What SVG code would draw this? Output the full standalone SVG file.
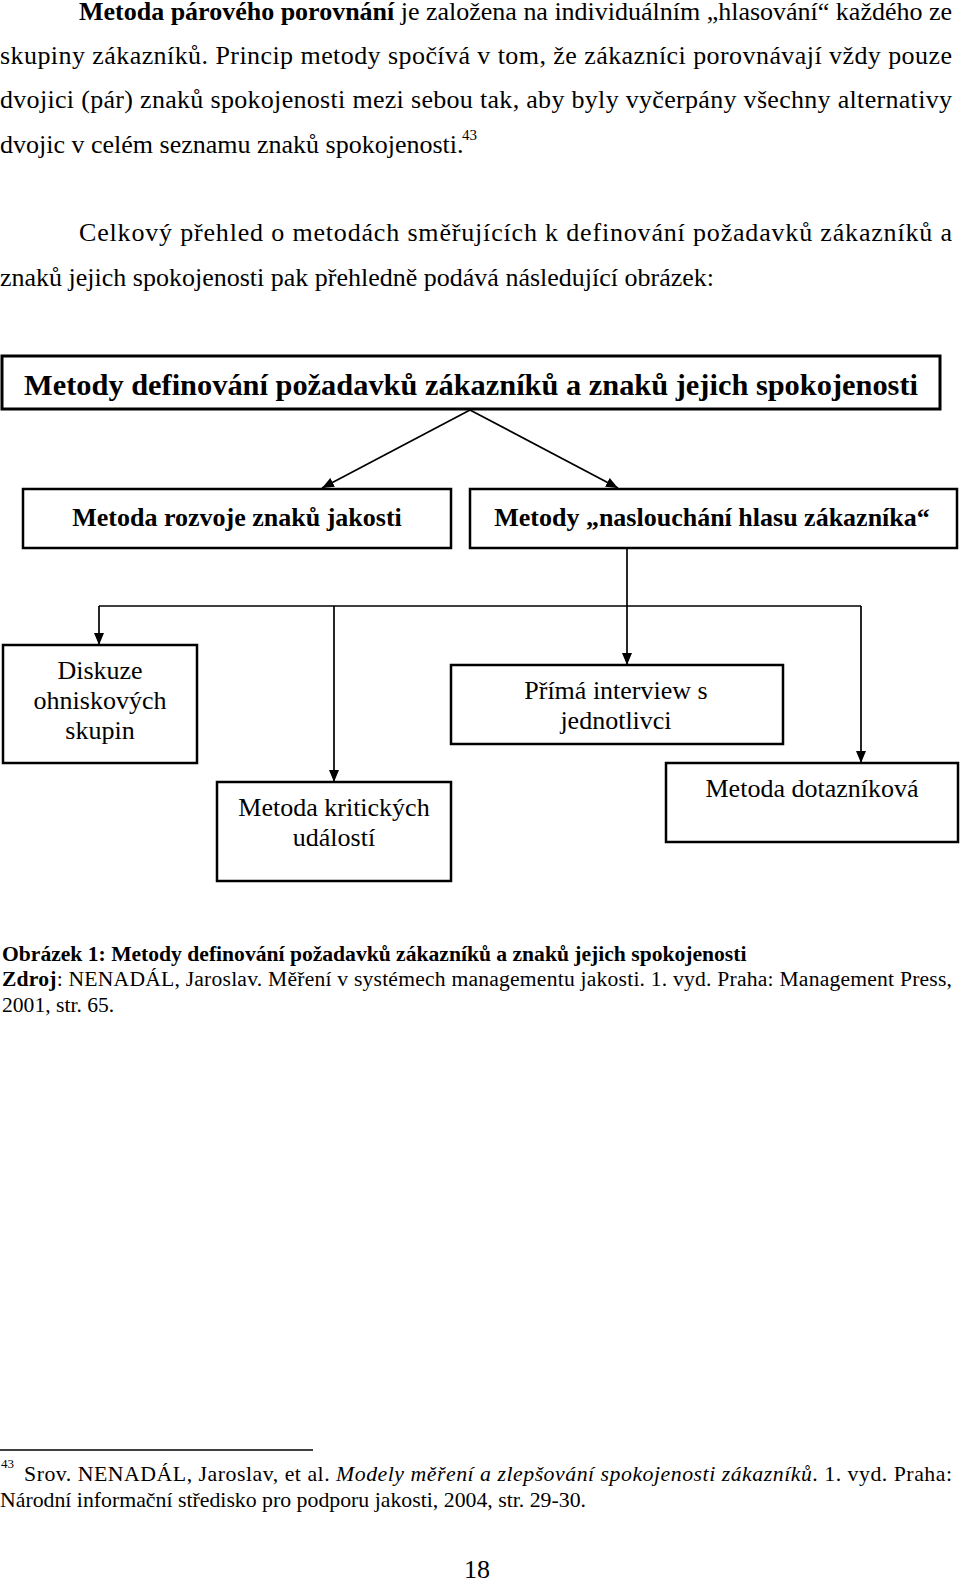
<svg xmlns="http://www.w3.org/2000/svg" width="960" height="1584" viewBox="0 0 960 1584">
<style>
text{font-family:"Liberation Serif","Times New Roman",serif;fill:#000}
.body{font-size:26px}
.b{font-weight:bold}
.box{fill:#fff;stroke:#000;stroke-width:2.5}
.lbl{font-size:26px;text-anchor:middle}
.cap{font-size:21.6px}
.fn{font-size:21.8px}
.con{fill:none;stroke:#000;stroke-width:1.7}
</style>
<defs>
<marker id="ah" markerUnits="userSpaceOnUse" markerWidth="12" markerHeight="10" refX="12" refY="5" orient="auto">
<path d="M0,0 L12,5 L0,10 z" fill="#000"/>
</marker>
</defs>
<rect width="960" height="1584" fill="#fff"/>
<g id="text-top">
<text class="body" x="79" y="20" textLength="873" lengthAdjust="spacing"><tspan class="b">Metoda párového porovnání</tspan> je založena na individuálním „hlasování“ každého ze</text>
<text class="body" x="0" y="64" textLength="952" lengthAdjust="spacing">skupiny zákazníků. Princip metody spočívá v tom, že zákazníci porovnávají vždy pouze</text>
<text class="body" x="0" y="108" textLength="952" lengthAdjust="spacing">dvojici (pár) znaků spokojenosti mezi sebou tak, aby byly vyčerpány všechny alternativy</text>
<text class="body" x="0" y="153">dvojic v celém seznamu znaků spokojenosti.</text>
<text x="462" y="140" style="font-size:15px">43</text>
<text class="body" x="79" y="241" textLength="873" lengthAdjust="spacing">Celkový přehled o metodách směřujících k definování požadavků zákazníků a</text>
<text class="body" x="0" y="286">znaků jejich spokojenosti pak přehledně podává následující obrázek:</text>
</g>
<g id="connectors">
<line class="con" x1="470" y1="410" x2="322" y2="488" marker-end="url(#ah)"/>
<line class="con" x1="470" y1="410" x2="618" y2="488" marker-end="url(#ah)"/>
<line class="con" x1="627" y1="549" x2="627" y2="665" marker-end="url(#ah)"/>
<line class="con" x1="99" y1="606" x2="861" y2="606"/>
<line class="con" x1="99" y1="606" x2="99" y2="645" marker-end="url(#ah)"/>
<line class="con" x1="334" y1="606" x2="334" y2="782" marker-end="url(#ah)"/>
<line class="con" x1="861" y1="606" x2="861" y2="763" marker-end="url(#ah)"/>
</g>
<g id="n-root">
<rect class="box" x="2" y="356" width="938" height="53" style="stroke-width:3"/>
<text class="lbl b" x="471" y="395" style="font-size:30px" textLength="894" lengthAdjust="spacingAndGlyphs">Metody definování požadavků zákazníků a znaků jejich spokojenosti</text>
</g>
<g id="n-rozvoj">
<rect class="box" x="23" y="489" width="428" height="59"/>
<text class="lbl b" x="237" y="526">Metoda rozvoje znaků jakosti</text>
</g>
<g id="n-naslouchani">
<rect class="box" x="470" y="489" width="487" height="59"/>
<text class="lbl b" x="712" y="526">Metody „naslouchání hlasu zákazníka“</text>
</g>
<g id="n-diskuze">
<rect class="box" x="3" y="645" width="194" height="118"/>
<text class="lbl" x="100" y="679">Diskuze</text>
<text class="lbl" x="100" y="709">ohniskových</text>
<text class="lbl" x="100" y="739">skupin</text>
</g>
<g id="n-kriticke">
<rect class="box" x="217" y="782" width="234" height="99"/>
<text class="lbl" x="334" y="816">Metoda kritických</text>
<text class="lbl" x="334" y="846">událostí</text>
</g>
<g id="n-interview">
<rect class="box" x="451" y="665" width="332" height="79"/>
<text class="lbl" x="616" y="699">Přímá interview s</text>
<text class="lbl" x="616" y="729">jednotlivci</text>
</g>
<g id="n-dotaznik">
<rect class="box" x="666" y="763" width="292" height="79"/>
<text class="lbl" x="812" y="797">Metoda dotazníková</text>
</g>
<g id="caption">
<text class="cap b" x="2" y="961">Obrázek 1: Metody definování požadavků zákazníků a znaků jejich spokojenosti</text>
<text class="cap" x="2" y="986" textLength="950" lengthAdjust="spacing"><tspan class="b">Zdroj</tspan>: NENADÁL, Jaroslav. Měření v systémech managementu jakosti. 1. vyd. Praha: Management Press,</text>
<text class="cap" x="2" y="1012">2001, str. 65.</text>
</g>
<g id="footnote">
<line x1="0" y1="1450" x2="313" y2="1450" stroke="#000" stroke-width="1.5"/>
<text x="1" y="1468" style="font-size:13px">43</text>
<text class="fn" x="24" y="1481" textLength="928" lengthAdjust="spacing">Srov. NENADÁL, Jaroslav, et al. <tspan font-style="italic">Modely měření a zlepšování spokojenosti zákazníků</tspan>. 1. vyd. Praha:</text>
<text class="fn" x="0" y="1507">Národní informační středisko pro podporu jakosti, 2004, str. 29-30.</text>
<text class="body" x="477" y="1578" text-anchor="middle">18</text>
</g>
</svg>
